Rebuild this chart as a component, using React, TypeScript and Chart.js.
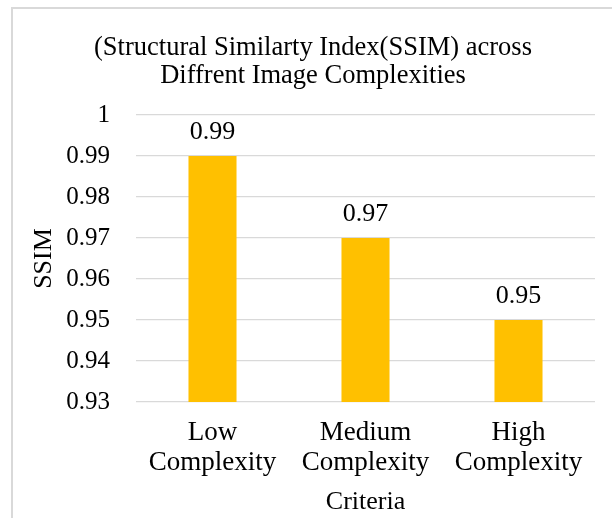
import React, { useEffect, useRef } from "react";
import { Chart, registerables } from "chart.js";

Chart.register(...registerables);

const categories: string[][] = [["Low", "Complexity"], ["Medium", "Complexity"], ["High", "Complexity"]];
const ssimValues: number[] = [0.99, 0.97, 0.95];
const yTickMin = 0.93;
const yTickMax = 1;
const yTickStep = 0.01;
const titleLines: string[] = ["(Structural Similarty Index(SSIM) across", "Diffrent Image Complexities"];
const yAxisTitle = "SSIM";
const xAxisTitle = "Criteria";

const FONT = '"Liberation Serif", "Times New Roman", serif';

const fmt = (v: number) => String(parseFloat(Number(v).toFixed(2)));

const titlePlugin = {
  id: "customTitle",
  afterDraw(chart: any) {
    const ctx = chart.ctx;
    ctx.save();
    ctx.font = `26.5px ${FONT}`;
    ctx.fillStyle = "#000";
    ctx.textAlign = "center";
    ctx.textBaseline = "alphabetic";
    titleLines.forEach((line, i) => {
      ctx.fillText(line, 313, 55 + i * 28);
    });
    ctx.restore();
  },
};

const dataLabelPlugin = {
  id: "dataLabels",
  afterDatasetsDraw(chart: any) {
    const ctx = chart.ctx;
    const meta = chart.getDatasetMeta(0);
    ctx.save();
    ctx.font = `26px ${FONT}`;
    ctx.fillStyle = "#000";
    ctx.textAlign = "center";
    ctx.textBaseline = "alphabetic";
    meta.data.forEach((bar: any, i: number) => {
      const v = chart.data.datasets[0].data[i];
      ctx.fillText(fmt(v), bar.x, bar.y - 17);
    });
    ctx.restore();
  },
};

export default function App() {
  const canvasRef = useRef<HTMLCanvasElement | null>(null);

  useEffect(() => {
    document.body.style.margin = "0";
    const canvas = canvasRef.current;
    if (!canvas) return;
    const chart = new Chart(canvas, {
      type: "bar",
      data: {
        labels: categories,
        datasets: [
          {
            data: ssimValues,
            backgroundColor: "#FFC000",
            borderWidth: 0,
            categoryPercentage: 1,
            barPercentage: 0.314,
          },
        ],
      },
      options: {
        responsive: false,
        animation: false,
        layout: { padding: { left: 0, right: 17, top: 115, bottom: 0 } },
        plugins: {
          legend: { display: false },
          tooltip: { enabled: false },
          title: { display: false },
        },
        scales: {
          x: {
            grid: { display: false, drawTicks: false },
            border: { display: false },
            ticks: {
              color: "#000",
              font: { family: FONT, size: 27, lineHeight: 30 / 27 },
              padding: 16,
              maxRotation: 0,
              autoSkip: false,
            },
            title: {
              display: true,
              text: xAxisTitle,
              color: "#000",
              font: { family: FONT, size: 26, lineHeight: 30 / 26 },
              padding: { top: 0, bottom: 1 },
            },
            afterFit: (scale: any) => {
              scale.height = 116;
            },
          },
          y: {
            min: yTickMin,
            max: yTickMax,
            grid: { color: "#d9d9d9", lineWidth: 1.3, drawTicks: false },
            border: { display: false },
            ticks: {
              stepSize: yTickStep,
              color: "#000",
              font: { family: FONT, size: 25 },
              padding: 26,
              callback: (v: any) => fmt(v),
            },
            title: {
              display: true,
              text: yAxisTitle,
              color: "#000",
              font: { family: FONT, size: 26, lineHeight: 1.15 },
              padding: { top: 29, bottom: 0 },
            },
            afterFit: (scale: any) => {
              scale.width = 136;
            },
          },
        },
      },
      plugins: [dataLabelPlugin, titlePlugin],
    });
    return () => chart.destroy();
  }, []);

  return (
    <div style={{ position: "relative", width: 612, height: 518, overflow: "hidden", background: "#fff" }}>
      <canvas ref={canvasRef} width={612} height={518} style={{ display: "block" }} />
      <div
        style={{
          position: "absolute",
          left: 11,
          top: 7,
          width: 700,
          height: 600,
          border: "2px solid #d9d9d9",
          pointerEvents: "none",
        }}
      />
    </div>
  );
}
